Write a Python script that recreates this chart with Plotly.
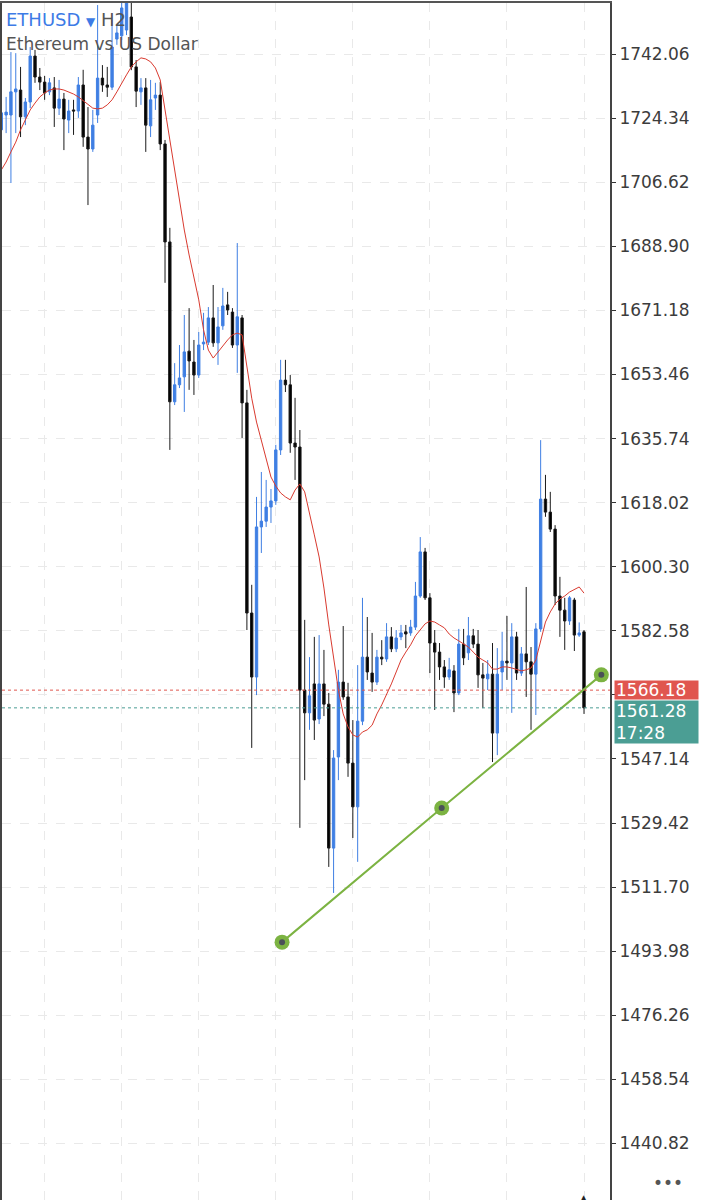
import plotly.graph_objects as go

# ---------------- data (H2 candles, ETHUSD) ----------------
idx = list(range(122))

opens = [1721.1, 1725.2, 1725.2, 1731.6, 1732.1, 1724.7, 1728.8, 1741.5, 1735.7, 1734.3,
         1731.6, 1732.7, 1727.1, 1729.6, 1723.8, 1726.6, 1726.3, 1733.5, 1719.1, 1715.8,
         1725.2, 1735.4, 1733.5, 1732.9, 1746.2, 1747.1, 1748.7, 1752.3, 1738.5, 1731.6,
         1732.7, 1722.2, 1729.9, 1730.7, 1717.2, 1690.1, 1645.9, 1650.6, 1652.8, 1659.9,
         1656.9, 1653.3, 1661.9, 1662.4, 1669.1, 1662.2, 1666.9, 1672.7, 1670.7, 1661.6,
         1669.1, 1645.6, 1587.5, 1569.8, 1611.3, 1612.9, 1616.8, 1618.5, 1632.6, 1651.9,
         1650.6, 1634.5, 1633.4, 1566.2, 1559.9, 1567.9, 1558.2, 1567.9, 1562.3, 1522.5,
         1547.7, 1568.4, 1564.3, 1546.0, 1533.9, 1557.6, 1575.3, 1570.9, 1568.4, 1575.3,
         1574.8, 1580.9, 1577.6, 1580.9, 1582.3, 1582.0, 1583.6, 1592.2, 1604.4, 1591.7,
         1579.2, 1576.7, 1572.6, 1569.8, 1571.5, 1565.4, 1578.9, 1576.5, 1581.2, 1578.9,
         1570.4, 1569.3, 1570.6, 1554.3, 1571.2, 1574.2, 1573.7, 1580.9, 1570.9, 1576.2,
         1574.0, 1570.6, 1583.1, 1619.0, 1615.4, 1610.7, 1592.2, 1588.3, 1585.3, 1591.1,
         1581.4, 1582.3]

highs = [1729.4, 1730.2, 1742.6, 1742.3, 1738.5, 1729.9, 1744.0, 1743.2, 1738.2, 1736.0,
         1735.4, 1735.7, 1734.9, 1731.3, 1729.4, 1729.4, 1735.7, 1737.7, 1727.4, 1726.6,
         1755.6, 1739.0, 1738.5, 1751.5, 1750.1, 1756.2, 1759.8, 1758.4, 1740.4, 1735.4,
         1735.4, 1734.9, 1734.1, 1734.3, 1718.3, 1694.0, 1656.6, 1661.6, 1669.9, 1671.8,
         1663.0, 1665.2, 1670.5, 1672.1, 1678.2, 1672.1, 1677.4, 1676.3, 1671.8, 1689.8,
         1669.9, 1649.2, 1595.3, 1619.6, 1626.5, 1624.3, 1621.8, 1634.0, 1657.5, 1657.5,
         1653.3, 1647.0, 1638.1, 1585.6, 1575.3, 1580.9, 1581.4, 1577.3, 1565.4, 1549.6,
         1571.8, 1583.9, 1568.2, 1557.9, 1573.1, 1591.7, 1586.4, 1582.0, 1577.3, 1580.0,
         1584.7, 1583.6, 1582.8, 1584.2, 1584.2, 1585.6, 1596.1, 1608.5, 1605.5, 1593.0,
         1582.8, 1579.2, 1574.5, 1575.1, 1573.1, 1583.1, 1583.1, 1586.4, 1583.1, 1582.8,
         1573.7, 1574.5, 1579.2, 1577.8, 1582.3, 1586.7, 1584.7, 1582.3, 1578.1, 1594.7,
         1578.1, 1584.7, 1635.3, 1625.7, 1621.0, 1611.8, 1597.5, 1591.7, 1592.2, 1591.7,
         1584.9, 1582.8]

lows = [1718.3, 1720.2, 1706.4, 1720.2, 1719.1, 1722.4, 1727.1, 1734.1, 1732.1, 1729.4,
        1730.7, 1721.9, 1725.2, 1715.5, 1720.2, 1719.7, 1724.4, 1716.4, 1700.3, 1715.0,
        1723.0, 1731.6, 1730.2, 1732.1, 1744.6, 1745.9, 1747.3, 1737.6, 1727.4, 1728.0,
        1715.0, 1719.1, 1726.6, 1715.5, 1678.8, 1632.6, 1645.0, 1649.7, 1643.1, 1649.2,
        1647.8, 1652.5, 1660.2, 1661.6, 1661.1, 1656.1, 1665.8, 1669.9, 1660.8, 1653.9,
        1635.9, 1582.8, 1550.2, 1564.8, 1604.1, 1611.3, 1612.4, 1617.4, 1631.2, 1648.6,
        1631.8, 1624.3, 1528.1, 1541.3, 1555.2, 1552.4, 1556.8, 1559.0, 1517.3, 1510.1,
        1541.3, 1563.5, 1542.2, 1525.3, 1518.7, 1556.5, 1569.0, 1565.7, 1567.6, 1573.1,
        1574.0, 1576.7, 1576.7, 1580.0, 1577.8, 1581.2, 1582.8, 1591.7, 1591.1, 1570.9,
        1560.7, 1569.0, 1566.8, 1569.0, 1560.1, 1564.8, 1573.1, 1574.5, 1577.8, 1566.8,
        1561.2, 1566.2, 1546.3, 1548.2, 1566.2, 1569.0, 1559.9, 1569.0, 1570.1, 1564.3,
        1555.2, 1559.3, 1582.3, 1614.1, 1609.9, 1589.7, 1580.9, 1577.3, 1584.2, 1577.0,
        1580.9, 1559.6]

closes = [1725.8, 1726.0, 1731.6, 1732.4, 1724.7, 1728.8, 1741.5, 1735.7, 1734.3, 1731.3,
          1734.1, 1727.1, 1729.6, 1724.1, 1726.3, 1726.3, 1733.5, 1719.1, 1715.8, 1722.4,
          1735.4, 1733.5, 1732.9, 1744.0, 1747.9, 1754.8, 1757.0, 1738.5, 1731.8, 1732.7,
          1722.4, 1729.4, 1730.7, 1717.2, 1690.1, 1645.9, 1650.6, 1652.5, 1659.7, 1657.2,
          1653.3, 1661.6, 1662.4, 1669.1, 1662.2, 1666.6, 1672.4, 1671.3, 1661.6, 1669.4,
          1645.6, 1587.5, 1569.8, 1611.3, 1612.9, 1616.8, 1618.5, 1632.6, 1651.9, 1650.6,
          1634.5, 1633.4, 1566.2, 1559.9, 1564.6, 1557.9, 1567.9, 1562.3, 1522.5, 1547.4,
          1568.4, 1564.3, 1546.0, 1533.9, 1557.6, 1575.3, 1571.2, 1568.4, 1575.3, 1574.8,
          1580.9, 1577.6, 1580.6, 1582.0, 1581.7, 1583.6, 1592.2, 1604.4, 1591.7, 1579.2,
          1576.7, 1572.6, 1569.8, 1571.8, 1565.4, 1578.9, 1575.1, 1581.2, 1578.9, 1570.4,
          1569.5, 1570.6, 1554.3, 1570.6, 1574.2, 1573.7, 1580.9, 1570.9, 1576.2, 1574.0,
          1570.6, 1583.1, 1619.0, 1615.4, 1610.7, 1592.2, 1588.3, 1585.3, 1591.7, 1581.4,
          1582.0, 1561.28]

# moving average line
ma = [1710.0, 1712.2, 1715.0, 1717.7, 1721.1, 1723.8, 1726.6, 1728.5, 1730.2, 1731.3,
      1732.1, 1732.4, 1732.4, 1732.1, 1731.6, 1731.0, 1730.2, 1729.1, 1728.0, 1727.1,
      1726.9, 1727.1, 1728.0, 1729.4, 1731.6, 1734.1, 1736.3, 1738.5, 1739.9, 1741.0,
      1740.7, 1739.9, 1738.2, 1734.9, 1726.6, 1718.3, 1709.4, 1700.9, 1693.4, 1686.5,
      1680.1, 1674.1, 1665.8, 1660.2, 1658.0, 1659.7, 1661.3, 1663.0, 1664.4, 1664.9,
      1664.4, 1656.1, 1646.9, 1640.3, 1635.3, 1629.8, 1625.1, 1622.6, 1620.7, 1619.6,
      1618.8, 1621.5, 1623.2, 1621.0, 1614.6, 1609.1, 1603.0, 1594.4, 1584.2, 1574.5,
      1566.2, 1559.6, 1556.0, 1553.8, 1553.2, 1554.6, 1555.2, 1556.5, 1559.6, 1562.1,
      1564.8, 1567.9, 1571.2, 1574.5, 1576.7, 1578.7, 1581.2, 1582.8, 1584.5, 1585.3,
      1585.0, 1584.2, 1583.4, 1581.7, 1580.6, 1579.8, 1578.9, 1578.1, 1576.7, 1575.3,
      1574.5, 1573.7, 1572.0, 1572.0, 1572.6, 1572.6, 1572.3, 1571.8, 1571.5, 1571.8,
      1572.3, 1574.5, 1580.0, 1585.0, 1587.8, 1590.0, 1591.4, 1592.2, 1593.3, 1594.1,
      1594.7, 1593.0]

# user-drawn trend line (3 anchor points)
trend_x = [58.3, 91.45, 124.6]
trend_y = [1496.5, 1533.6, 1570.4]

tick_vals = [1742.06, 1724.34, 1706.62, 1688.90, 1671.18, 1653.46, 1635.74, 1618.02,
             1600.30, 1582.58, 1564.86, 1547.14, 1529.42, 1511.70, 1493.98, 1476.26,
             1458.54, 1440.82]
tick_text = ["1742.06", "1724.34", "1706.62", "1688.90", "1671.18", "1653.46", "1635.74",
             "1618.02", "1600.30", "1582.58", "", "1547.14", "1529.42", "1511.70",
             "1493.98", "1476.26", "1458.54", "1440.82"]

ask_price = 1566.18
bid_price = 1561.28
countdown = "17:28"

BLUE = "#3f7fe3"
RED = "#e0564f"
TEAL = "#4b9e94"
GREEN = "#7cb342"

fig = go.Figure()

fig.add_trace(go.Candlestick(
    x=idx, open=opens, high=highs, low=lows, close=closes,
    increasing=dict(line=dict(color=BLUE, width=1), fillcolor=BLUE),
    decreasing=dict(line=dict(color="#1a1a1a", width=1), fillcolor="#000000"),
    whiskerwidth=0, showlegend=False, hoverinfo="skip",
))

fig.add_trace(go.Scatter(
    x=idx, y=ma, mode="lines", line=dict(color="#d93a2f", width=1),
    showlegend=False, hoverinfo="skip",
))

# price lines
fig.add_hline(y=ask_price, line=dict(color=RED, width=1, dash="dot"))
fig.add_hline(y=bid_price, line=dict(color=TEAL, width=1, dash="dot"))

# trend line
fig.add_trace(go.Scatter(
    x=trend_x, y=trend_y, mode="lines+markers",
    line=dict(color=GREEN, width=2),
    marker=dict(size=15, color=GREEN),
    showlegend=False, hoverinfo="skip", cliponaxis=False,
))
fig.add_trace(go.Scatter(
    x=trend_x, y=trend_y, mode="markers",
    marker=dict(size=6, color="#4a5058"),
    showlegend=False, hoverinfo="skip", cliponaxis=False,
))

XMIN, XMAX = 0.145, 126.4
YMIN, YMAX = 1425.2, 1756.17

fig.update_layout(
    width=707, height=1200,
    margin=dict(l=0, r=97, t=3, b=0),
    paper_bgcolor="white", plot_bgcolor="white",
    font=dict(family="DejaVu Sans", color="#3a3a3a"),
    xaxis=dict(
        range=[XMIN, XMAX], rangeslider=dict(visible=False),
        showticklabels=False, ticks="",
        showgrid=True, gridcolor="#e9e9e9", griddash="dash", gridwidth=1,
        tickmode="linear", tick0=9, dtick=16,
        zeroline=False, showline=True, linecolor="#555555", linewidth=2,
        side="top", mirror=False,
    ),
    yaxis=dict(
        range=[YMIN, YMAX], side="right",
        tickmode="array", tickvals=tick_vals, ticktext=tick_text,
        ticks="outside", ticklen=4, tickcolor="#333333", tickwidth=1,
        tickfont=dict(family="DejaVu Sans", size=17, color="#3c3c3c"),
        showgrid=True, gridcolor="#e9e9e9", griddash="dash", gridwidth=1,
        zeroline=False, showline=True, linecolor="#444444", linewidth=2,
        mirror=True,
    ),
)

annotations = [
    dict(xref="paper", yref="paper", x=0.003, y=0.9858, xanchor="left", yanchor="middle",
         text='<span style="color:#3d7be6">ETHUSD</span> <span style="color:#3d7be6;font-size:12px">▼</span> H2',
         showarrow=False, font=dict(family="DejaVu Sans", size=18, color="#555555")),
    dict(xref="paper", yref="paper", x=0.003, y=0.9657, xanchor="left", yanchor="middle",
         text="Ethereum vs US Dollar", showarrow=False,
         font=dict(family="DejaVu Sans", size=17, color="#555555")),
    dict(xref="paper", yref="y", x=1.0066, y=ask_price, xanchor="left", yanchor="middle",
         text="1566.18", showarrow=False, bgcolor=RED, width=81, height=16, align="left",
         borderpad=1, font=dict(family="DejaVu Sans", size=17, color="white")),
    dict(xref="paper", yref="y", x=1.0066, y=1563.5, xanchor="left", yanchor="top",
         text="1561.28<br>" + countdown, showarrow=False, bgcolor=TEAL, width=81, height=40,
         align="left", borderpad=1,
         font=dict(family="DejaVu Sans", size=17, color="white")),
    dict(xref="paper", yref="paper", x=1.068, y=0.0145, xanchor="left", yanchor="middle",
         text="•••", showarrow=False, font=dict(family="DejaVu Sans", size=17, color="#555555")),
    dict(xref="paper", yref="paper", x=0.957, y=0.001, xanchor="center", yanchor="middle",
         text="▲", showarrow=False, font=dict(family="DejaVu Sans", size=12, color="#222222")),
]
fig.update_layout(annotations=annotations)

fig.write_html("out.html",
               config={"displayModeBar": False},
               post_script="document.body.style.margin='0px';document.body.style.overflow='hidden';")
